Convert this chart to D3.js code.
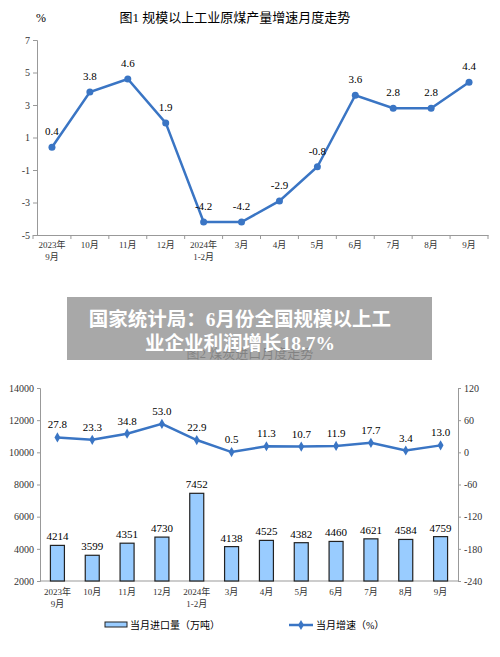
<!DOCTYPE html><html><head><meta charset="utf-8"><script src="https://cdn.jsdelivr.net/npm/d3@7"></script>
<style>body{margin:0;background:#fff}text{font-family:"Liberation Serif","Noto Sans CJK SC",serif}</style></head><body>
<svg id="c" width="500" height="657"></svg>
<script>
const cats1=["2023年|9月","10月","11月","12月","2024年|1-2月","3月","4月","5月","6月","7月","8月","9月"];
const growth1=[0.4,3.8,4.6,1.9,-4.2,-4.2,-2.9,-0.8,3.6,2.8,2.8,4.4];
const ticks1=[7,5,3,1,-1,-3,-5];
const imports=[4214,3599,4351,4730,7452,4138,4525,4382,4460,4621,4584,4759];
const growth2=[27.8,23.3,34.8,53.0,22.9,0.5,11.3,10.7,11.9,17.7,3.4,13.0];
const leftTicks=[2000,4000,6000,8000,10000,12000,14000];
const rightTicks=[-240,-180,-120,-60,0,60,120];
const svg=d3.select("#c");
const blue="#3a75c4",cjk='"Noto Sans CJK SC",sans-serif';
const fmt=d=>String(d);
function xlabels(g,x,y0,size){
  cats1.forEach((c,i)=>{c.split("|").forEach((s,j)=>g.append("text").attr("x",x(i)+x.bandwidth()/2).attr("y",y0+j*12).attr("text-anchor","middle").attr("font-size",size).attr("font-family",cjk).attr("fill","#333").text(s));});
}
// Chart 1
{
const x=d3.scaleBand().domain(d3.range(12)).range([33,488]);
const y=d3.scaleLinear().domain([-5,7]).range([235,40]);
const g=svg.append("g");
g.append("text").attr("x",235).attr("y",22).attr("text-anchor","middle").attr("font-size",13).attr("font-family",cjk).text("图1  规模以上工业原煤产量增速月度走势");
g.append("text").attr("x",36).attr("y",22).attr("font-size",12).attr("font-family",cjk).text("%");
g.append("g").attr("transform","translate(37,0)").call(d3.axisLeft(y).tickValues(ticks1).tickSize(4).tickFormat(fmt)).call(a=>{a.selectAll("text").attr("font-size",10).attr("fill","#333");a.selectAll("path,line").attr("stroke","#999");});
g.append("g").attr("transform","translate(0,235)").call(d3.axisBottom(x).tickSize(0).tickFormat("")).call(a=>{a.select("path").attr("stroke","#999");});
x.domain().concat([12]).forEach(i=>g.append("line").attr("x1",33+i*x.step()).attr("x2",33+i*x.step()).attr("y1",235).attr("y2",239).attr("stroke","#999"));
xlabels(g,x,248,9);
const cx=i=>x(i)+x.bandwidth()/2;
g.append("path").datum(growth1).attr("fill","none").attr("stroke",blue).attr("stroke-width",2.5).attr("d",d3.line().x((d,i)=>cx(i)).y(d=>y(d)));
g.selectAll(".p1").data(growth1).join("circle").attr("cx",(d,i)=>cx(i)).attr("cy",d=>y(d)).attr("r",3.5).attr("fill",blue);
g.selectAll(".l1").data(growth1).join("text").attr("x",(d,i)=>cx(i)).attr("y",d=>y(d)-12).attr("text-anchor","middle").attr("font-size",11).attr("font-family","Liberation Sans,sans-serif").text(d=>d.toFixed(1));
}
// Chart 2
{
const x=d3.scaleBand().domain(d3.range(12)).range([40,458]);
const yl=d3.scaleLinear().domain([2000,14000]).range([581,388]);
const yr=d3.scaleLinear().domain([-240,120]).range([581,388]);
const g=svg.append("g");
g.append("text").attr("x",250).attr("y",358).attr("text-anchor","middle").attr("font-size",13).attr("font-family",cjk).text("图2  煤炭进口月度走势");
g.append("g").attr("transform","translate(40,0)").call(d3.axisLeft(yl).tickValues(leftTicks).tickSize(3).tickFormat(fmt)).call(a=>{a.selectAll("text").attr("font-size",10).attr("fill","#333");a.selectAll("path,line").attr("stroke","#999");});
g.append("g").attr("transform","translate(458,0)").call(d3.axisRight(yr).tickValues(rightTicks).tickSize(3).tickFormat(fmt)).call(a=>{a.selectAll("text").attr("font-size",10).attr("fill","#333");a.selectAll("path,line").attr("stroke","#999");});
g.append("line").attr("x1",40).attr("x2",458).attr("y1",581).attr("y2",581).attr("stroke","#999");
xlabels(g,x,595,9);
const cx=i=>x(i)+x.bandwidth()/2;
g.selectAll(".b").data(imports).join("rect").attr("x",(d,i)=>cx(i)-7).attr("width",14).attr("y",d=>yl(d)).attr("height",d=>581-yl(d)).attr("fill","#99ccff").attr("stroke","#222").attr("stroke-width",1.2);
g.selectAll(".bl").data(imports).join("text").attr("x",(d,i)=>cx(i)).attr("y",d=>yl(d)-5).attr("text-anchor","middle").attr("font-size",11).attr("font-family","Liberation Sans,sans-serif").text(d=>d);
g.append("path").datum(growth2).attr("fill","none").attr("stroke",blue).attr("stroke-width",2.5).attr("d",d3.line().x((d,i)=>cx(i)).y(d=>yr(d)));
g.selectAll(".m").data(growth2).join("path").attr("transform",(d,i)=>`translate(${cx(i)},${yr(d)})`).attr("d",d3.symbol(d3.symbolDiamond,30)).attr("fill",blue);
g.selectAll(".gl").data(growth2).join("text").attr("x",(d,i)=>cx(i)).attr("y",d=>yr(d)-9).attr("text-anchor","middle").attr("font-size",11).attr("font-family","Liberation Sans,sans-serif").text(d=>d.toFixed(1));
g.append("rect").attr("x",105).attr("y",622).attr("width",22).attr("height",5).attr("fill","#99ccff").attr("stroke","#222");
g.append("text").attr("x",130).attr("y",629).attr("font-size",10).attr("font-family",cjk).text("当月进口量（万吨）");
g.append("line").attr("x1",289).attr("x2",313).attr("y1",625).attr("y2",625).attr("stroke",blue).attr("stroke-width",2.5);
g.append("path").attr("transform","translate(301,625)").attr("d",d3.symbol(d3.symbolDiamond,30)).attr("fill",blue);
g.append("text").attr("x",316).attr("y",629).attr("font-size",10).attr("font-family",cjk).text("当月增速（%）");
}
svg.append("rect").attr("x",67).attr("y",297).attr("width",365).attr("height",63).attr("fill","#999").attr("opacity",0.85);
svg.append("text").attr("x",240).attr("y",326).attr("text-anchor","middle").attr("font-size",19.5).attr("font-weight","bold").attr("fill","#fff").attr("font-family",cjk).text("国家统计局：6月份全国规模以上工");
svg.append("text").attr("x",240).attr("y",350).attr("text-anchor","middle").attr("font-size",19.5).attr("font-weight","bold").attr("fill","#fff").attr("font-family",cjk).text("业企业利润增长18.7%");
</script></body></html>
